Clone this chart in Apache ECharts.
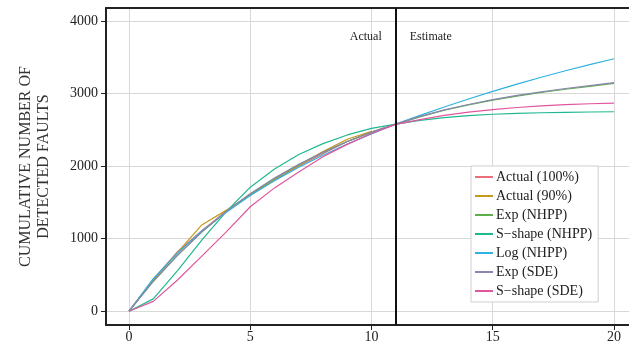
<!DOCTYPE html>
<html>
<head>
<meta charset="utf-8">
<script src="https://cdn.jsdelivr.net/npm/echarts@6/dist/echarts.min.js"></script>
<style>
  html, body { margin: 0; padding: 0; background: #fff; }
  #chart { width: 629px; height: 345px; }
</style>
</head>
<body>
<div id="chart"></div>
<script>
// x positions (time units)
const xs = [0, 1, 2, 3, 4, 5, 6, 7, 8, 9, 10, 11, 12, 13, 14, 15, 16, 17, 18, 19, 20]

// series values
const actual100 = [0, 440, 820, 1110, 1380, 1600, 1810, 2000, 2170, 2340, 2470, 2580]
const actual90 = [0, 430, 810, 1190, 1390, 1610, 1820, 2010, 2200, 2370, 2480]
const expNhpp = [0, 410, 770, 1090, 1370, 1615, 1830, 2020, 2190, 2340, 2465, 2580, 2680, 2770, 2845, 2910, 2965, 3015, 3060, 3100, 3140]
const sNhpp = [0, 170, 560, 980, 1370, 1710, 1960, 2160, 2310, 2430, 2520, 2580, 2630, 2670, 2695, 2715, 2727, 2736, 2742, 2746, 2750]
const logNhpp = [0, 450, 805, 1105, 1360, 1595, 1800, 1985, 2150, 2305, 2445, 2580, 2700, 2815, 2925, 3030, 3130, 3225, 3315, 3400, 3480]
const expSde = [0, 415, 775, 1095, 1375, 1620, 1835, 2025, 2190, 2340, 2470, 2580, 2685, 2775, 2850, 2918, 2975, 3025, 3070, 3110, 3150]
const sSde = [0, 135, 430, 760, 1090, 1440, 1700, 1920, 2130, 2300, 2450, 2575, 2640, 2700, 2745, 2780, 2808, 2830, 2847, 2860, 2870]

const names = ['Actual (100%)', 'Actual (90%)', 'Exp (NHPP)', 'S\u2212shape (NHPP)', 'Log (NHPP)', 'Exp (SDE)', 'S\u2212shape (SDE)']
const colors = ['#e8707a', '#c49a1c', '#5cb04a', '#1fb890', '#2fb2de', '#8a86ae', '#e0569e']
const values = [actual100, actual90, expNhpp, sNhpp, logNhpp, expSde, sSde]

const xTicks = [0, 5, 10, 15, 20]
const yTicks = [0, 1000, 2000, 3000, 4000]
const splitX = 11

const serif = 'Liberation Serif'

const series = values.map((v, i) => ({
  name: names[i],
  type: 'line',
  data: v.map((y, k) => [xs[k], y]),
  symbol: 'none',
  lineStyle: { color: colors[i], width: 1.2 },
  itemStyle: { color: colors[i] },
  z: 3
}))

series[0].markLine = {
  silent: true,
  symbol: 'none',
  label: { show: false },
  lineStyle: { color: '#111', width: 2, type: 'solid' },
  data: [{ xAxis: splitX }],
  z: 5
}

const chart = echarts.init(document.getElementById('chart'))

chart.setOption({
  backgroundColor: '#fff',
  animation: false,
  grid: { left: 106, right: 0, top: 8, bottom: 20 },
  xAxis: [{
    type: 'value',
    min: -0.95,
    max: 20.62,
    axisLine: { show: true, onZero: false, lineStyle: { color: '#222', width: 2 } },
    axisTick: { show: true, length: 5, customValues: xTicks, lineStyle: { color: '#222' } },
    axisLabel: { customValues: xTicks, color: '#222', fontFamily: serif, fontSize: 14, margin: 5 },
    splitLine: { show: true, lineStyle: { color: '#d8d8d8', width: 1 } }
  }, {
    // top frame line of the panel
    type: 'value',
    position: 'top',
    min: -0.95,
    max: 20.62,
    axisLine: { show: true, onZero: false, lineStyle: { color: '#222', width: 2 } },
    axisTick: { show: false },
    axisLabel: { show: false },
    splitLine: { show: false }
  }],
  yAxis: {
    type: 'value',
    min: -190,
    max: 4180,
    name: 'CUMULATIVE NUMBER OF\nDETECTED FAULTS',
    nameLocation: 'middle',
    nameRotate: 90,
    nameGap: 53,
    nameTextStyle: { fontFamily: serif, fontSize: 16, color: '#333', lineHeight: 18 },
    axisLine: { show: true, onZero: false, lineStyle: { color: '#222', width: 2 } },
    axisTick: { show: true, length: 5, customValues: yTicks, lineStyle: { color: '#222' } },
    axisLabel: { customValues: yTicks, formatter: v => String(v), color: '#222', fontFamily: serif, fontSize: 14, margin: 8 },
    splitLine: { show: true, lineStyle: { color: '#d8d8d8', width: 1 } }
  },
  legend: {
    orient: 'vertical',
    left: 471,
    top: 166,
    backgroundColor: '#fff',
    borderColor: '#cfcfcf',
    borderWidth: 1,
    borderRadius: 0,
    padding: [4, 6, 4, 3],
    itemGap: 5,
    itemWidth: 18,
    itemHeight: 14,
    itemStyle: { opacity: 0 },
    textStyle: { fontFamily: serif, fontSize: 14, color: '#222', padding: [0, 0, 0, -2] },
    data: names
  },
  series
})

// "Actual" / "Estimate" labels either side of the split line
const p = chart.convertToPixel({ gridIndex: 0 }, [splitX, 3780])
chart.setOption({
  graphic: [
    { type: 'text', x: p[0] - 14, y: p[1], style: { text: 'Actual', fontFamily: serif, fontSize: 12, fill: '#222', align: 'right', verticalAlign: 'middle' } },
    { type: 'text', x: p[0] + 14, y: p[1], style: { text: 'Estimate', fontFamily: serif, fontSize: 12, fill: '#222', align: 'left', verticalAlign: 'middle' } }
  ]
})
</script>
</body>
</html>
